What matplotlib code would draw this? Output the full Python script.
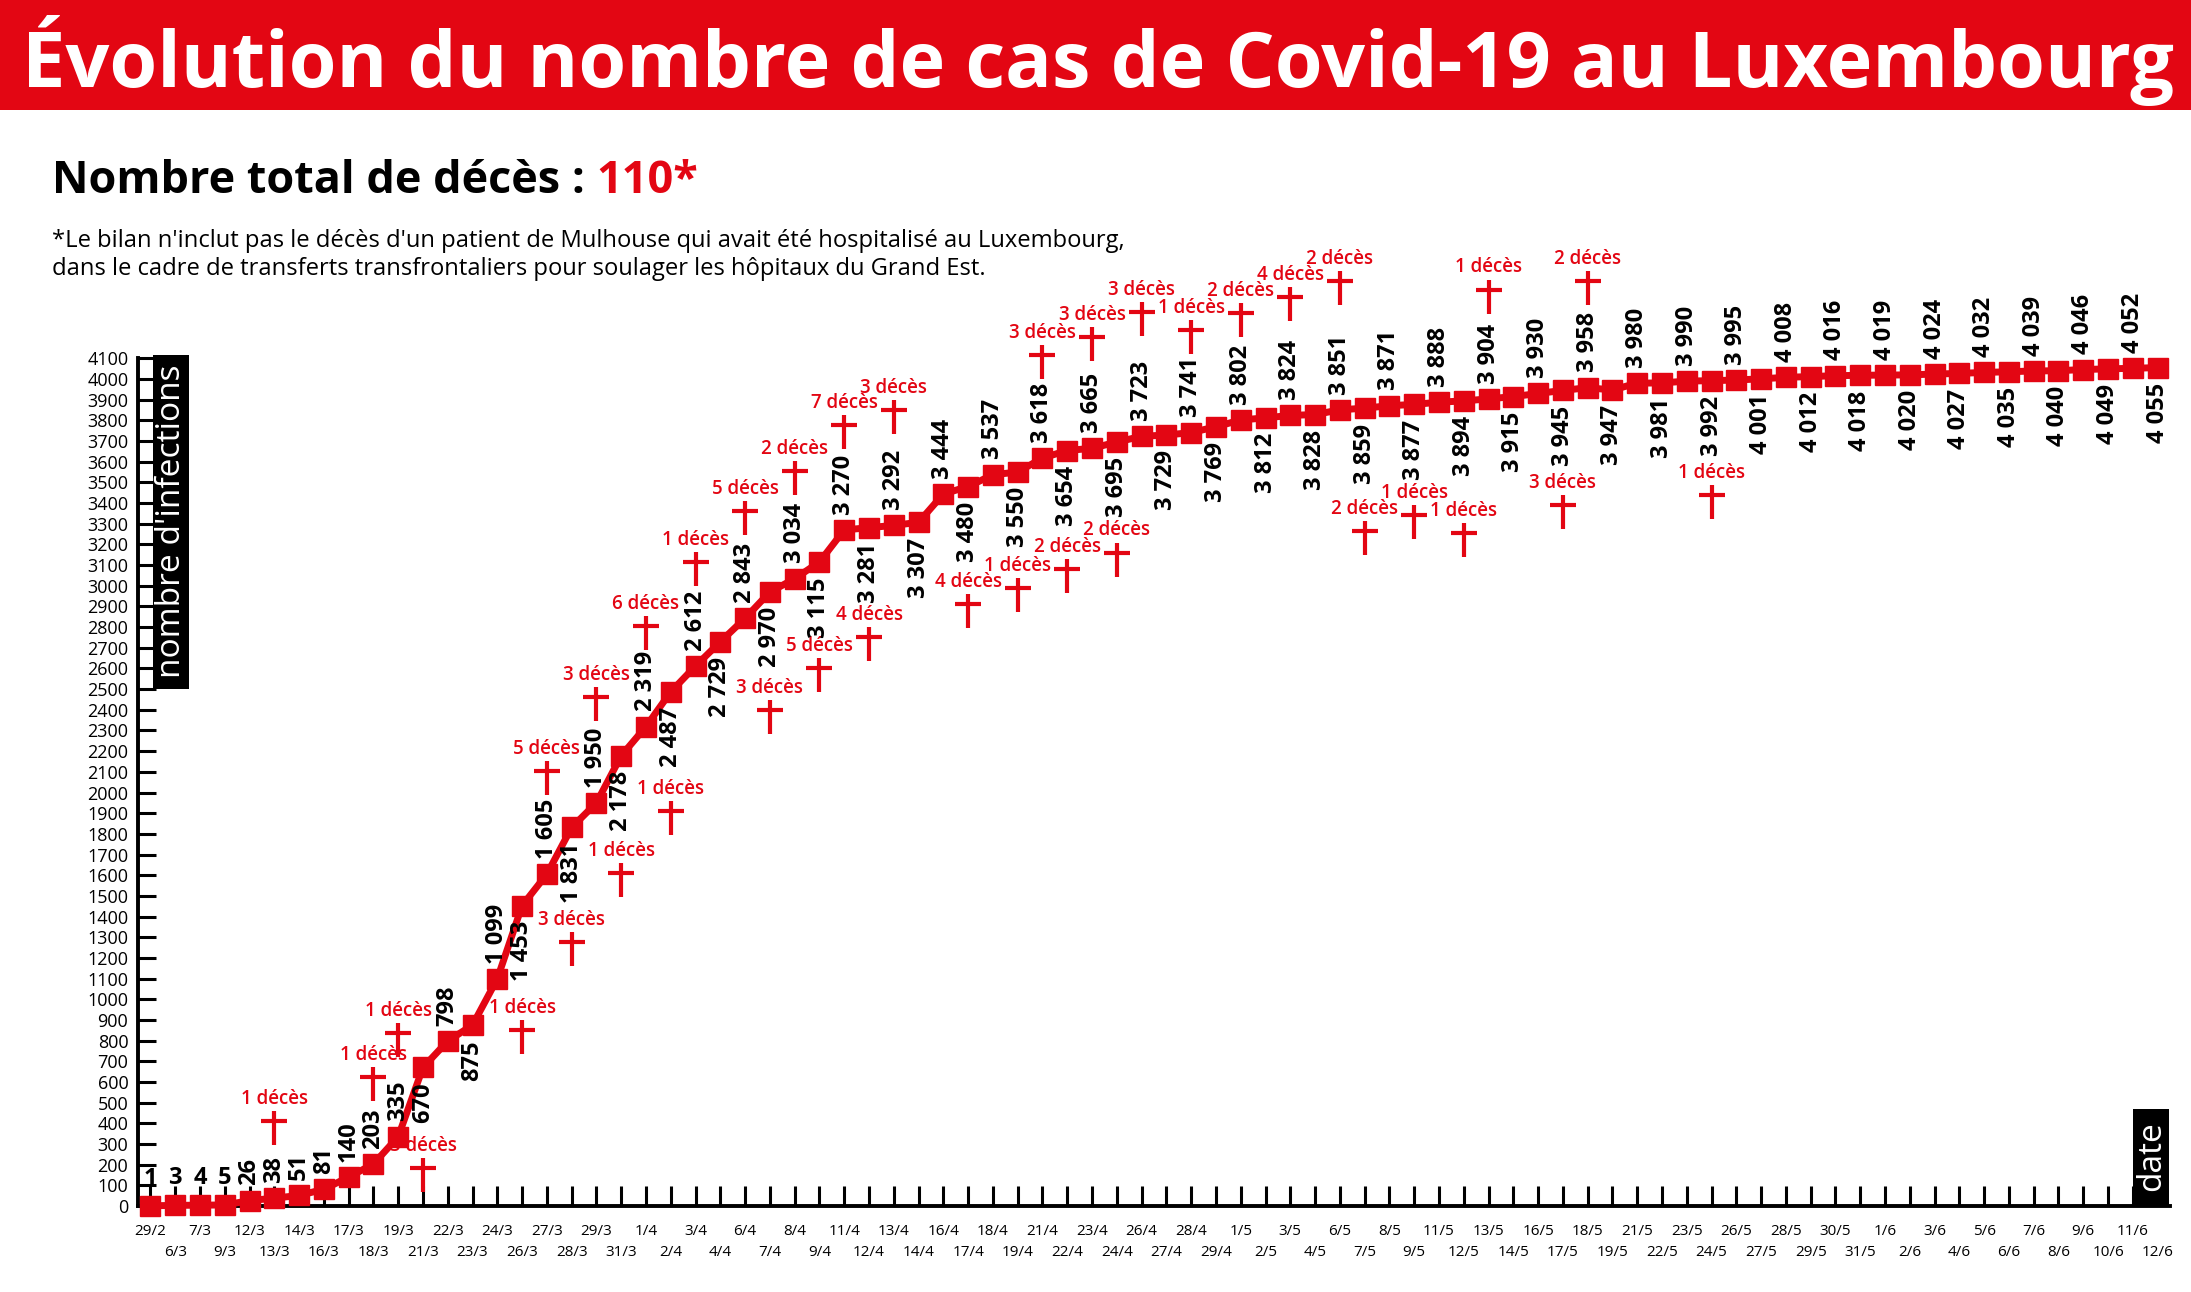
import matplotlib
matplotlib.use('Agg')
import matplotlib.pyplot as plt
import numpy as np
from matplotlib.patches import Rectangle
from matplotlib.path import Path

RED = '#e30613'
plt.rcParams['font.family'] = ['Open Sans', 'DejaVu Sans']

# dates shown on the x axis (one point per date)
dates = ['29/2', '6/3', '7/3', '9/3', '12/3', '13/3', '14/3', '16/3',
         '17/3', '18/3', '19/3', '21/3', '22/3', '23/3', '24/3', '26/3',
         '27/3', '28/3', '29/3', '31/3', '1/4', '2/4', '3/4', '4/4',
         '6/4', '7/4', '8/4', '9/4', '11/4', '12/4', '13/4', '14/4',
         '16/4', '17/4', '18/4', '19/4', '21/4', '22/4', '23/4', '24/4',
         '26/4', '27/4', '28/4', '29/4', '1/5', '2/5', '3/5', '4/5',
         '6/5', '7/5', '8/5', '9/5', '11/5', '12/5', '13/5', '14/5',
         '16/5', '17/5', '18/5', '19/5', '21/5', '22/5', '23/5', '24/5',
         '26/5', '27/5', '28/5', '29/5', '30/5', '31/5', '1/6', '2/6',
         '3/6', '4/6', '5/6', '6/6', '7/6', '8/6', '9/6', '10/6',
         '11/6', '12/6']

# cumulative number of infections
cases = [1, 3, 4, 5, 26, 38, 51, 81,
         140, 203, 335, 670, 798, 875, 1099, 1453,
         1605, 1831, 1950, 2178, 2319, 2487, 2612, 2729,
         2843, 2970, 3034, 3115, 3270, 3281, 3292, 3307,
         3444, 3480, 3537, 3550, 3618, 3654, 3665, 3695,
         3723, 3729, 3741, 3769, 3802, 3812, 3824, 3828,
         3851, 3859, 3871, 3877, 3888, 3894, 3904, 3915,
         3930, 3945, 3958, 3947, 3980, 3981, 3990, 3992,
         3995, 4001, 4008, 4012, 4016, 4018, 4019, 4020,
         4024, 4027, 4032, 4035, 4039, 4040, 4046, 4049,
         4052, 4055]

# deaths: date index, height of the cross on the chart, number of deaths
death_idx = [5, 9, 10, 11, 15, 16, 17, 18, 19, 20, 21, 22, 24, 25, 26, 27,
             28, 29, 30, 33, 35, 36, 37, 38, 39, 40, 42, 44, 46, 48, 49, 51,
             53, 54, 57, 58, 63]
death_y = [379, 591, 803, 151, 819, 2070, 1244, 2427, 1579, 2771, 1878, 3082,
           3327, 2366, 3522, 2568, 3743, 2716, 3814, 2876, 2957, 4081, 3045,
           4170, 3127, 4291, 4202, 4284, 4363, 4439, 3230, 3309, 3221, 4399,
           3357, 4439, 3404]
death_n = [1, 1, 1, 3, 1, 5, 3, 3, 1, 6, 1, 1, 5, 3, 2, 5,
           7, 4, 3, 4, 1, 3, 2, 3, 2, 3, 1, 2, 4, 2, 2, 1,
           1, 1, 3, 2, 1]

W, H = 2191, 1292
fig = plt.figure(figsize=(W / 100, H / 100), dpi=100)
renderer = fig.canvas.get_renderer()


def fx(x):
    return x / W


def fy(y):
    return 1 - y / H


def fit(t, size_px, vertical=False):
    bb = t.get_window_extent(renderer)
    cur = bb.height if vertical else bb.width
    t.set_fontsize(t.get_fontsize() * size_px / cur)


# red header
fig.add_artist(Rectangle((0, fy(110)), 1, 110 / H, transform=fig.transFigure,
                         color=RED, lw=0, zorder=0))
title = fig.text(fx(1098), fy(87), 'Évolution du nombre de cas de Covid-19 au Luxembourg',
                 color='white', fontweight='bold', fontsize=50, ha='center', va='baseline')
fit(title, 2153)

# subtitle
s1 = fig.text(fx(52), fy(193), 'Nombre total de décès : ', fontweight='bold',
              fontsize=30, va='baseline')
s2 = fig.text(0, fy(193), '110*', fontweight='bold', color=RED, fontsize=30, va='baseline')
w = s1.get_window_extent(renderer).width + s2.get_window_extent(renderer).width
for t in (s1, s2):
    t.set_fontsize(t.get_fontsize() * 646 / w)
s2.set_x(fx(52 + s1.get_window_extent(renderer).width))

n1 = fig.text(fx(52), fy(247), "*Le bilan n'inclut pas le décès d'un patient de Mulhouse "
              "qui avait été hospitalisé au Luxembourg,", fontsize=15, va='baseline')
fit(n1, 1070)
fig.text(fx(52), fy(275), 'dans le cadre de transferts transfrontaliers pour soulager '
         'les hôpitaux du Grand Est.', fontsize=n1.get_fontsize(), va='baseline')

# chart
ax = fig.add_axes([fx(138), fy(1206), (2170 - 138) / W, (1206 - 250) / H])
x = np.arange(len(dates))
ax.plot(x, cases, color=RED, lw=5, marker='s', ms=14.4, zorder=3, clip_on=False)

ax.set_xlim(-0.5, len(dates) - 0.5)
ax.set_ylim(0, 4624)
ax.set_yticks(np.arange(0, 4101, 100))
ax.set_xticks(x)
ax.set_xticklabels([d if i % 2 == 0 else '\n' + d for i, d in enumerate(dates)],
                   linespacing=1.5)
ax.tick_params(axis='x', direction='in', length=14.4, width=2.2, pad=13, labelsize=11)
ax.tick_params(axis='y', direction='in', length=12.7, width=2.2, pad=7, labelsize=13)
for side in ('top', 'right'):
    ax.spines[side].set_visible(False)
for side in ('left', 'bottom'):
    ax.spines[side].set_linewidth(2.8)
ax.spines['left'].set_bounds(0, 4100)
ax.patch.set_alpha(0)

# value labels
for i, v in enumerate(cases):
    txt = f'{v:,}'.replace(',', ' ')
    above = i <= 10 or i % 2 == 0
    ax.annotate(txt, (i, v), xytext=(0, 11 if above else -11), textcoords='offset points',
                rotation=0 if len(txt) == 1 else 90, ha='center',
                va='bottom' if above else 'top', fontsize=17, fontweight='bold',
                annotation_clip=False, zorder=4)

# death crosses
cross = Path([(0, -1), (0, 1), (-0.74, 0.4), (0.74, 0.4)],
             [Path.MOVETO, Path.LINETO, Path.MOVETO, Path.LINETO])
ax.plot(death_idx, death_y, linestyle='none', marker=cross, ms=24.5, mew=3,
        mec=RED, mfc='none', clip_on=False, zorder=2)
for i, y, n in zip(death_idx, death_y, death_n):
    ax.annotate(f'{n} décès', (i, y), xytext=(0, 17.3), textcoords='offset points',
                ha='center', va='baseline', color=RED, fontsize=13.5, fontweight='semibold',
                annotation_clip=False, zorder=2)

# axis title boxes
fig.add_artist(Rectangle((fx(153), fy(689)), 36 / W, 334 / H, transform=fig.transFigure,
                         color='black', lw=0, zorder=5))
yl = fig.text(fx(172), fy(521), "nombre d'infections", rotation=90, color='white',
              fontsize=20, ha='center', va='center', zorder=6)
fit(yl, 312, vertical=True)
fig.add_artist(Rectangle((fx(2133), fy(1207)), 36 / W, 98 / H, transform=fig.transFigure,
                         color='black', lw=0, zorder=5))
fig.text(fx(2152), fy(1156), 'date', rotation=90, color='white',
         fontsize=yl.get_fontsize(), ha='center', va='center', zorder=6)

fig.savefig('out.png', dpi=100)
